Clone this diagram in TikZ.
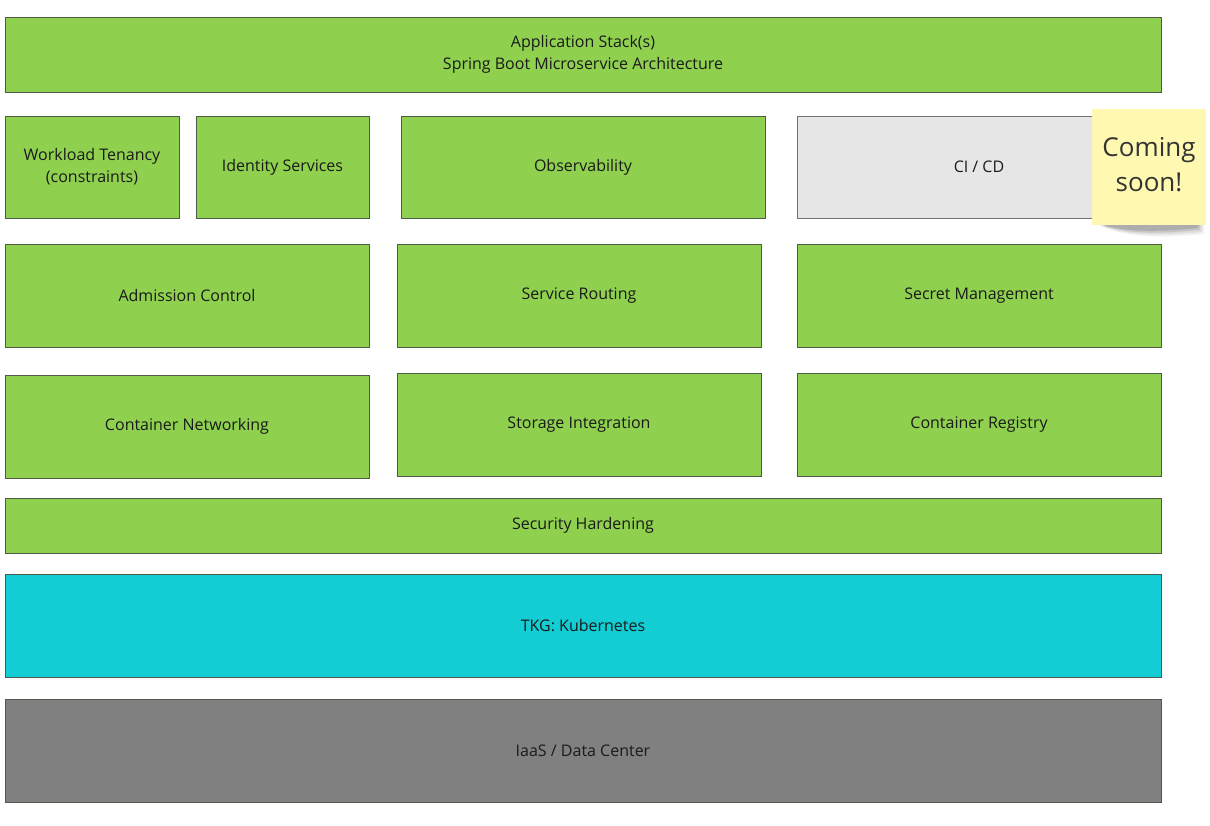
\documentclass[tikz,border=0pt]{standalone}
\usepackage{fontspec}
\setmainfont{Open Sans}
\definecolor{grn}{HTML}{8FD14F}
\definecolor{cyn}{HTML}{12CDD4}
\definecolor{gry}{HTML}{808080}
\definecolor{lgry}{HTML}{E6E6E6}
\definecolor{linec}{HTML}{4F5A4A}
\definecolor{txt}{HTML}{1A1A1A}
\definecolor{sticky}{HTML}{FFF8B0}
\tikzset{
  box/.style={draw=linec, line width=0.75pt, fill=grn, inner sep=0pt, align=center,
    font=\fontsize{12}{16.5}\selectfont, text=txt},
  note/.style={fill=sticky, inner sep=0pt, align=center,
    font=\fontsize{19.5}{26.5}\selectfont, text=black!80}
}
\newcommand\mkbox[7]{%
  \pgfmathsetmacro\bw{(#5-#3)*0.75}%
  \pgfmathsetmacro\bh{(#6-#4)*0.75}%
  \node[box,#1,minimum width=\bw pt,minimum height=\bh pt] (#2) at ({(#3+#5)/2},{(#4+#6)/2}) {#7};}
\begin{document}
\begin{tikzpicture}[x=0.75pt,y=-0.75pt]
\useasboundingbox[fill=white] (0,0) rectangle (1210,825);
\mkbox{}{app}{5}{17}{1161}{92}{Application Stack(s)\\Spring Boot Microservice Architecture}
\mkbox{}{wt}{5}{116}{179}{218}{Workload Tenancy\\(constraints)}
\mkbox{}{ids}{196}{116}{369}{218}{Identity Services}
\mkbox{}{obs}{401}{116}{765}{218}{Observability}
\mkbox{fill=lgry,draw=black!55}{cicd}{797}{116}{1161}{218}{CI / CD}
\mkbox{}{adm}{5}{244}{369}{347}{Admission Control}
\mkbox{}{sr}{397}{244}{761}{347}{Service Routing}
\mkbox{}{sm}{797}{244}{1161}{347}{Secret Management}
\mkbox{}{cn}{5}{375}{369}{478}{Container Networking}
\mkbox{}{si}{397}{373}{761}{476}{Storage Integration}
\mkbox{}{cr}{797}{373}{1161}{476}{Container Registry}
\mkbox{}{sh}{5}{498}{1161}{553}{Security Hardening}
\mkbox{fill=cyn}{tkg}{5}{574}{1161}{677}{TKG: Kubernetes}
\mkbox{fill=gry}{iaas}{5}{699}{1161}{802}{IaaS / Data Center}
% sticky note shadow
\foreach \i/\o in {0/0.06,2/0.08,4/0.10,6/0.12}{
  \fill[black,opacity=\o] (1100+\i,222) -- (1204-\i,222) -- (1204-\i,234-\i) .. controls (1160,238-\i) and (1130,238-\i) .. (1100+\i,226) -- cycle;
}
\node[note,minimum width=85.5pt,minimum height=87pt] (soon) at (1149,167) {\raisebox{2.6pt}{\begin{tabular}{@{}c@{}}Coming\\soon!\end{tabular}}};
\end{tikzpicture}
\end{document}
